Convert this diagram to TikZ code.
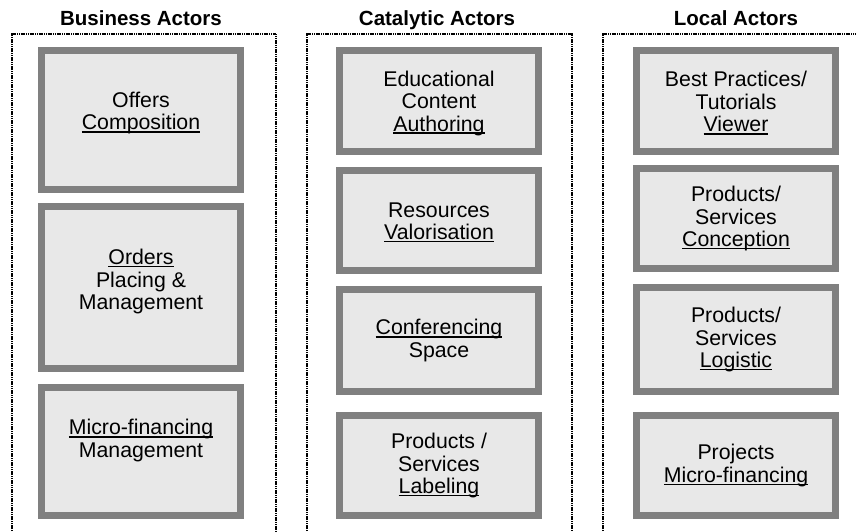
\documentclass[tikz,border=0pt]{standalone}
\usepackage{fontspec}
\setmainfont{Liberation Sans}
\newcommand{\ulx}[1]{\setbox0=\hbox{#1}\rlap{\rule[-2.8bp]{\wd0}{1.5bp}}\box0}
\definecolor{boxfill}{HTML}{E8E8E8}
\definecolor{boxline}{HTML}{808080}
\tikzset{
  frame/.style={draw=black, line width=1.5bp, dash pattern=on 1.2bp off 0.6bp},
  actbox/.style={draw=boxline, fill=boxfill, line width=7bp, inner sep=0pt, outer sep=0pt},
  txt/.style={align=center, inner sep=0pt, font=\fontsize{21.3bp}{22.5bp}\selectfont},
  ttl/.style={anchor=base, inner sep=0pt, font=\fontsize{20.5bp}{23bp}\selectfont\bfseries}
}
\newcommand{\actorbox}[5]{%
  \node[actbox, minimum width={#3-#2-7bp}, minimum height={#5-#4-7bp}] (#1) at ({(#2+#3)/2},{(#4+#5)/2}) {};}
\begin{document}
\begin{tikzpicture}[x=1bp, y=-1bp]
\useasboundingbox (0,0) rectangle (856,532);
\begin{scope}
\clip (0,0) rectangle (856,532);
% frames
\draw[frame] (12,560) -- (12,34) -- (276,34) -- (276,560);
\draw[frame] (307,560) -- (307,34) -- (572,34) -- (572,560);
\draw[frame] (603,560) -- (603,34) -- (870,34) -- (870,560);
\end{scope}
% titles
\node[ttl] (tL) at (141,26) {Business Actors};
\node[ttl] (tM) at (437,26) {Catalytic Actors};
\node[ttl] (tR) at (736,26) {Local Actors};
% left column
\actorbox{L1}{38}{244}{47}{193}
\actorbox{L2}{38}{244}{203}{372}
\actorbox{L3}{38}{244}{384}{519}
% middle column
\actorbox{M1}{336}{542}{47}{155}
\actorbox{M2}{336}{542}{167}{274}
\actorbox{M3}{336}{542}{286}{395}
\actorbox{M4}{336}{542}{412}{519}
% right column
\actorbox{R1}{633}{839}{47}{155}
\actorbox{R2}{633}{839}{165}{272}
\actorbox{R3}{633}{839}{284}{395}
\actorbox{R4}{633}{839}{412}{519}
% texts
\node[txt] (xL1) at ([yshift=7bp]L1.center) {Offers\\\ulx{Composition}};
\node[txt] (xL2) at ([yshift=6bp]L2.center) {\ulx{Orders}\\Placing \&\\Management};
\node[txt] (xL3) at ([yshift=11bp]L3.center) {\ulx{Micro-financing}\\Management};
\node[txt] (xM1) at ([yshift=-2bp]M1.center) {Educational\\Content\\\ulx{Authoring}};
\node[txt] (xM2) at ([yshift=-2bp]M2.center) {Resources\\\ulx{Valorisation}};
\node[txt] (xM3) at (M3.center) {\ulx{Conferencing}\\Space};
\node[txt] (xM4) at (M4.center) {Products /\\Services\\\ulx{Labeling}};
\node[txt] (xR1) at ([yshift=-2bp]R1.center) {Best Practices/\\Tutorials\\\ulx{Viewer}};
\node[txt] (xR2) at (R2.center) {Products/\\Services\\\ulx{Conception}};
\node[txt] (xR3) at (R3.center) {Products/\\Services\\\ulx{Logistic}};
\node[txt] (xR4) at (R4.center) {Projects\\\ulx{Micro-financing}};
\end{tikzpicture}
\end{document}
